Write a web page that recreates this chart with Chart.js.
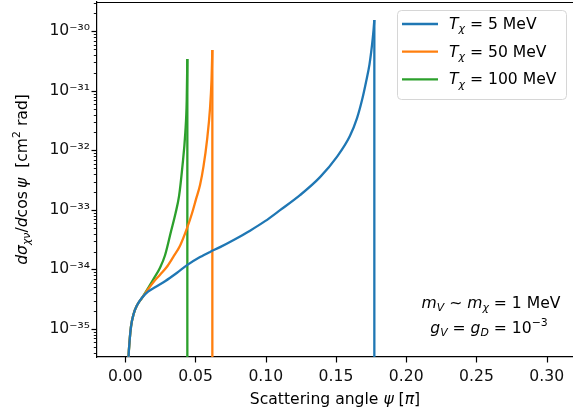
<!DOCTYPE html>
<html>
<head>
<meta charset="utf-8">
<script src="https://cdn.jsdelivr.net/npm/chart.js@4.4.1/dist/chart.umd.min.js"></script>
<style>
  html, body { margin: 0; padding: 0; background: #fff; overflow: hidden; }
</style>
</head>
<body>
<canvas id="chart" width="573" height="417"></canvas>
<script>
// =========================
// Data
// =========================
const seriesLabels = ["5", "50", "100"]; // T_chi in MeV
const seriesColors = ["#1f77b4", "#ff7f0e", "#2ca02c"];

// rising part of each curve
const blueX = [0.00157, 0.00235, 0.00313, 0.00413, 0.00591, 0.0084, 0.01196, 0.01623, 0.02121, 0.02833,
  0.0369, 0.04399, 0.05324, 0.06036, 0.06748, 0.07815, 0.08883, 0.0995, 0.11018, 0.12441,
  0.13865, 0.15053, 0.1599, 0.16498, 0.16854, 0.17139, 0.17388, 0.17566, 0.17673, 0.1773];
const blueY = [1.0e-36, 3.4e-36, 6.45e-36, 1.11e-35, 1.77e-35, 2.5e-35, 3.34e-35, 4.22e-35, 5.02e-35, 6.34e-35,
  8.8e-35, 1.18e-34, 1.61e-34, 1.97e-34, 2.37e-34, 3.22e-34, 4.48e-34, 6.47e-34, 9.9e-34, 1.77e-33,
  3.55e-33, 7.7e-33, 1.74e-32, 3.48e-32, 7.0e-32, 1.41e-31, 2.82e-31, 5.9e-31, 1.05e-30, 1.55e-30];

const orangeX = [0.00157, 0.00235, 0.00313, 0.00413, 0.00591, 0.0084, 0.01196, 0.01552, 0.02, 0.02477,
  0.02954, 0.03402, 0.039, 0.04399, 0.04754, 0.05039, 0.05324, 0.05573, 0.05822, 0.06036,
  0.06142, 0.062];
const orangeY = [1.0e-36, 3.4e-36, 6.45e-36, 1.11e-35, 1.77e-35, 2.5e-35, 3.34e-35, 4.38e-35, 6.1e-35, 8.15e-35,
  1.1e-34, 1.6e-34, 2.5e-34, 4.93e-34, 8.8e-34, 1.52e-33, 2.61e-33, 5.43e-33, 1.49e-32, 5.14e-32,
  1.52e-31, 4.85e-31];

const greenX = [0.00157, 0.00235, 0.00313, 0.00413, 0.00591, 0.0084, 0.01196, 0.01552, 0.02, 0.02477,
  0.02833, 0.0326, 0.0358, 0.03829, 0.04064, 0.04278, 0.04377, 0.0442];
const greenY = [1.0e-36, 3.4e-36, 6.45e-36, 1.11e-35, 1.77e-35, 2.5e-35, 3.34e-35, 4.56e-35, 6.85e-35, 1.07e-34,
  1.73e-34, 4.38e-34, 8.8e-34, 1.7e-33, 5.24e-33, 2.03e-32, 7.0e-32, 3.42e-31];

// vertical drop at the kinematic edge of each curve
const dropX = [0.1773, 0.062, 0.0442];
const dropTop = [1.55e-30, 4.85e-31, 3.42e-31];
const dropBottom = 1e-37;

const xTicks = [0.0, 0.05, 0.10, 0.15, 0.20, 0.25, 0.30];
const yDecades = [-36, -35, -34, -33, -32, -31, -30];

// =========================
// Helpers
// =========================
const F = 15.6;
const LW = 2.3;
const FAM = '"DejaVu Sans"';
const SUP = { "-": "\u207B", "0": "\u2070", "1": "\u00B9", "2": "\u00B2", "3": "\u00B3",
  "4": "\u2074", "5": "\u2075", "6": "\u2076", "7": "\u2077", "8": "\u2078", "9": "\u2079" };

function supText(s) {
  return s.split("").map((c) => SUP[c] || c).join("");
}

function pts(xs, ys) {
  return xs.map((x, i) => ({ x: x, y: ys[i] }));
}

// parts: [text, kind] kind: r roman, i italic, sub italic subscript, sup roman superscript
function partFont(kind) {
  const small = kind === "sub" || kind === "sup";
  const size = small ? F * 0.7 : F;
  const ital = kind === "i" || kind === "sub";
  return (ital ? "italic " : "") + size + "px " + FAM;
}

function richText(ctx, parts, x, y, align) {
  let w = 0;
  parts.forEach(([t, k]) => {
    ctx.font = partFont(k);
    w += ctx.measureText(t).width;
  });
  let cx = align === "center" ? x - w / 2 : align === "right" ? x - w : x;
  ctx.textAlign = "left";
  ctx.textBaseline = "alphabetic";
  parts.forEach(([t, k]) => {
    ctx.font = partFont(k);
    const dy = k === "sub" ? F * 0.22 : k === "sup" ? -F * 0.42 : 0;
    ctx.fillText(t, cx, y + dy);
    cx += ctx.measureText(t).width;
  });
}

// =========================
// Plugin: spines, ticks, titles, legend, note
// =========================
const decorPlugin = {
  id: "decor",
  afterDraw(chart) {
    const ctx = chart.ctx;
    const area = chart.chartArea;
    const xs = chart.scales.x;
    const ys = chart.scales.y;
    ctx.save();
    ctx.strokeStyle = "#000";
    ctx.fillStyle = "#000";
    ctx.lineWidth = 1.2;

    // top spine
    ctx.beginPath();
    ctx.moveTo(area.left, area.top + 0.5);
    ctx.lineTo(area.right, area.top + 0.5);
    ctx.stroke();

    // x ticks
    xs.ticks.forEach((t) => {
      const px = Math.round(xs.getPixelForValue(t.value)) + 0.5;
      ctx.beginPath();
      ctx.moveTo(px, area.bottom);
      ctx.lineTo(px, area.bottom + 5.5);
      ctx.stroke();
    });

    // y ticks, major and minor
    ys.ticks.forEach((t) => {
      const py = Math.round(ys.getPixelForValue(t.value)) + 0.5;
      const len = t.major ? 5.5 : 3.2;
      ctx.lineWidth = t.major ? 1.2 : 0.9;
      ctx.beginPath();
      ctx.moveTo(area.left, py);
      ctx.lineTo(area.left - len, py);
      ctx.stroke();
    });

    // axis titles
    richText(ctx, [["Scattering angle ", "r"], ["\u03C8", "i"], [" [", "r"], ["\u03C0", "i"], ["]", "r"]],
      (area.left + area.right) / 2, 404, "center");

    ctx.save();
    ctx.translate(27, (area.top + area.bottom) / 2);
    ctx.rotate(-Math.PI / 2);
    richText(ctx, [["d\u03C3", "i"], ["\u03C7\u03BD", "sub"], ["/", "r"], ["d", "i"], ["cos\u2009", "r"],
      ["\u03C8", "i"], ["  [cm", "r"], ["2", "sup"], [" rad]", "r"]], 0, 0, "center");
    ctx.restore();

    // legend
    const lx = 397, ly = 10, lw = 169, lh = 89;
    ctx.beginPath();
    ctx.roundRect(lx + 0.5, ly + 0.5, lw, lh, 4);
    ctx.fillStyle = "rgba(255,255,255,0.8)";
    ctx.fill();
    ctx.strokeStyle = "#d6d6d6";
    ctx.lineWidth = 1;
    ctx.stroke();
    seriesLabels.forEach((lab, i) => {
      const yy = 24 + i * 27.7;
      ctx.strokeStyle = seriesColors[i];
      ctx.lineWidth = LW;
      ctx.beginPath();
      ctx.moveTo(402, yy);
      ctx.lineTo(438, yy);
      ctx.stroke();
      ctx.fillStyle = "#000";
      richText(ctx, [["T", "i"], ["\u03C7", "sub"], [" = " + lab + " MeV", "r"]], 449, yy + 5, "left");
    });

    // note
    ctx.fillStyle = "#000";
    richText(ctx, [["m", "i"], ["V", "sub"], [" \u223C ", "r"], ["m", "i"], ["\u03C7", "sub"], [" = 1 MeV", "r"]],
      491, 308, "center");
    richText(ctx, [["g", "i"], ["V", "sub"], [" = ", "r"], ["g", "i"], ["D", "sub"], [" = 10", "r"], ["\u22123", "sup"]],
      489, 333, "center");

    ctx.restore();
  },
};

// =========================
// Chart
// =========================
const ctx = document.getElementById("chart").getContext("2d");

const curves = [pts(blueX, blueY), pts(orangeX, orangeY), pts(greenX, greenY)].map((d, i) => ({
  label: "T = " + seriesLabels[i] + " MeV",
  data: d,
  borderColor: seriesColors[i],
  backgroundColor: seriesColors[i],
  borderWidth: LW,
  pointRadius: 0,
  cubicInterpolationMode: "monotone",
  showLine: true,
  fill: false,
}));

const drops = dropX.map((x, i) => ({
  label: "edge " + seriesLabels[i],
  data: [{ x: x, y: dropTop[i] }, { x: x, y: dropBottom }],
  borderColor: seriesColors[i],
  backgroundColor: seriesColors[i],
  borderWidth: LW,
  pointRadius: 0,
  showLine: true,
  fill: false,
}));

new Chart(ctx, {
  type: "scatter",
  data: { datasets: curves.concat(drops) },
  options: {
    responsive: false,
    animation: false,
    devicePixelRatio: 1,
    layout: { padding: { top: 2, right: 0, left: 0, bottom: 0 } },
    plugins: {
      legend: { display: false },
      tooltip: { enabled: false },
    },
    scales: {
      x: {
        type: "linear",
        min: -0.0201,
        max: 0.3187,
        afterBuildTicks: (scale) => {
          scale.ticks = xTicks.map((v) => ({ value: v }));
        },
        afterFit: (scale) => {
          scale.height = 60;
          scale.paddingLeft = 0;
          scale.paddingRight = 0;
        },
        grid: { drawOnChartArea: false, drawTicks: false },
        border: { display: true, color: "#000", width: 1.2 },
        ticks: {
          autoSkip: false,
          maxRotation: 0,
          padding: 11,
          color: "#111",
          font: { family: "DejaVu Sans", size: F },
          callback: (v) => Number(v).toFixed(2),
        },
      },
      y: {
        type: "logarithmic",
        min: 3.38e-36,
        max: 3.11e-30,
        afterBuildTicks: (scale) => {
          const ticks = [];
          yDecades.forEach((e) => {
            for (let k = 1; k <= 9; k++) {
              const v = k * Math.pow(10, e);
              if (v >= scale.min && v <= scale.max) ticks.push({ value: v, major: k === 1 });
            }
          });
          scale.ticks = ticks;
        },
        afterFit: (scale) => {
          scale.width = 97;
          scale.paddingTop = 0;
          scale.paddingBottom = 0;
        },
        grid: { drawOnChartArea: false, drawTicks: false },
        border: { display: true, color: "#000", width: 1.2 },
        ticks: {
          autoSkip: false,
          padding: 7,
          color: "#111",
          font: { family: "DejaVu Sans", size: F },
          callback: function (v) {
            const e = Math.log10(v);
            if (Math.abs(e - Math.round(e)) > 1e-6) return "";
            return "10" + supText(String(Math.round(e)));
          },
        },
      },
    },
  },
  plugins: [decorPlugin],
});
</script>
</body>
</html>
